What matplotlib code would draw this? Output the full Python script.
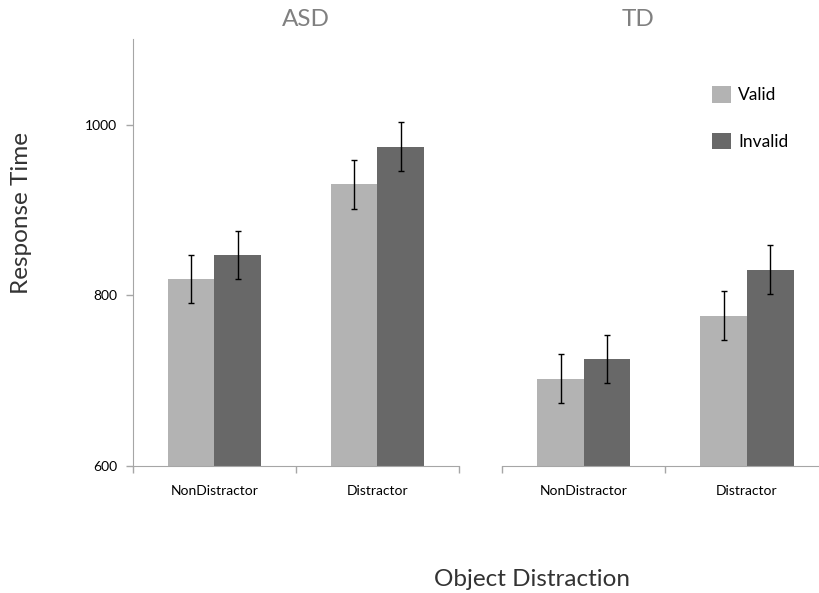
import matplotlib
matplotlib.use("Agg")
import matplotlib.pyplot as plt
from matplotlib.patches import Patch
import numpy as np

plt.rcParams['font.family'] = ['Lato', 'DejaVu Sans']

categories = ["NonDistractor", "Distractor"]
groups = ["ASD", "TD"]
series = ["Valid", "Invalid"]
asd_valid = [819, 930]
asd_invalid = [847, 974]
td_valid = [702, 776]
td_invalid = [725, 830]
asd_valid_err = [28.6, 28.5]
asd_invalid_err = [28.5, 28.6]
td_valid_err = [28.5, 28.7]
td_invalid_err = [28.5, 28.5]
yticks = [600, 800, 1000]

colors = {"Valid": "#b3b3b3", "Invalid": "#686868"}
spine_color = "#a6a6a6"

W, H = 819, 593
fig = plt.figure(figsize=(W / 100, H / 100), dpi=100)

ax_h = (465.7 - 39.3) / H
ax_b = 1 - 465.7 / H
ax_w = (459 - 132.7) / W
ax1 = fig.add_axes([132.7 / W, ax_b, ax_w, ax_h])
ax2 = fig.add_axes([502.3 / W, ax_b, ax_w, ax_h])

data = {
    "ASD": (asd_valid, asd_invalid, asd_valid_err, asd_invalid_err),
    "TD": (td_valid, td_invalid, td_valid_err, td_invalid_err),
}

bw = 1 / 3.5
x = np.arange(len(categories)) + 0.5
for ax, g in zip([ax1, ax2], groups):
    v, inv, ve, ie = data[g]
    base = 600
    ax.bar(x - bw / 2, np.array(v) - base, bw, bottom=base, color=colors["Valid"])
    ax.bar(x + bw / 2, np.array(inv) - base, bw, bottom=base, color=colors["Invalid"])
    ax.errorbar(x - bw / 2, v, yerr=ve, fmt='none', ecolor='black', elinewidth=1.0,
                capsize=2.3, capthick=1.0)
    ax.errorbar(x + bw / 2, inv, yerr=ie, fmt='none', ecolor='black', elinewidth=1.0,
                capsize=2.3, capthick=1.0)
    ax.set_xlim(0, 2)
    ax.set_ylim(600, 1100)
    ax.set_xticks([0, 1, 2])
    ax.set_xticklabels([])
    ax.set_xticks(x, minor=True)
    ax.set_xticklabels(categories, minor=True, fontsize=10)
    ax.tick_params(axis='x', which='minor', length=0, pad=14)
    ax.tick_params(axis='x', which='major', length=5, color=spine_color, width=1)
    for s in ['top', 'right']:
        ax.spines[s].set_visible(False)
    ax.spines['bottom'].set_color(spine_color)
    ax.spines['left'].set_color(spine_color)
    ax.patch.set_visible(False)

ax1.set_yticks(yticks)
ax1.set_yticklabels([str(t) for t in yticks], fontsize=10)
ax1.tick_params(axis='y', length=5, color=spine_color, width=1, pad=6)
ax2.spines['left'].set_visible(False)
ax2.set_yticks([])

fig.text(306 / W, 1 - 19.5 / H, "ASD", ha='center', va='center', fontsize=17.5, color="#808080")
fig.text(638 / W, 1 - 19.5 / H, "TD", ha='center', va='center', fontsize=17.5, color="#808080")
fig.text(531.5 / W, 1 - 580 / H, "Object Distraction", ha='center', va='center', fontsize=17.5, color="#333333")
fig.text(22 / W, 1 - 213.5 / H, "Response Time", ha='center', va='center', rotation=90,
         fontsize=17.5, color="#333333")

handles = [Patch(facecolor=colors[s], edgecolor='none', label=s) for s in series]
fig.legend(handles=handles, loc='upper left', bbox_to_anchor=(712.3 / W, 1 - 86 / H),
           frameon=False, fontsize=12.5, handlelength=1.05, handleheight=1.1,
           handletextpad=0.45, labelspacing=1.7, borderpad=0, borderaxespad=0)

fig.savefig("out.png", dpi=100)
